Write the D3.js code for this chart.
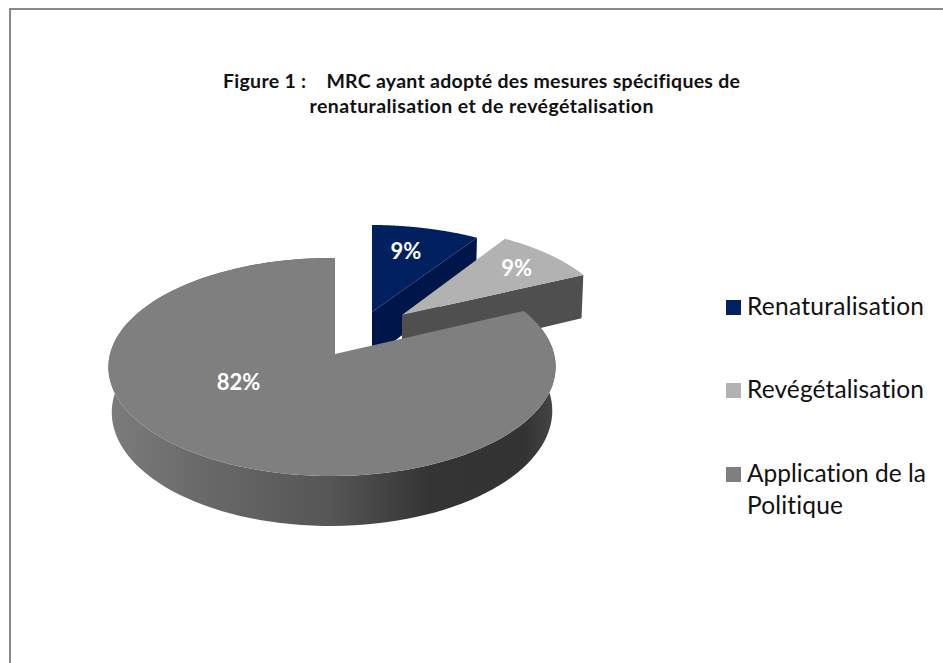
<!DOCTYPE html>
<html><head><meta charset="utf-8">
<script src="https://cdn.jsdelivr.net/npm/d3@7"></script>
<style>html,body{margin:0;padding:0;background:#fff}svg{display:block}text{font-family:Lato,"Open Sans",sans-serif;white-space:pre;font-variant-ligatures:none}</style>
</head><body><div id="c"></div>
<script>
const categories = ["Renaturalisation","Revégétalisation","Application de la Politique"];
const values = [9,9,82];
const valueLabels = ["9%","9%","82%"];
const colors = ["#002060","#b2b2b2","#7f7f7f"];
const sideColors = ["#00154a","#4f4f4f","url(#side)"];
const titleLines = ["Figure 1 :    MRC ayant adopté des mesures spécifiques de","renaturalisation et de revégétalisation"];

const W=943,H=663,K=0.119,J=0.0134;
// Layout of each exploded slice: apex on screen, radii, extrusion, taper, label polar position
const layout=[
 {cx:372,cy:312,A:217,B:97.4,d:46,f:.99,la:13.6,lr:.72,ldx:0,ldy:2},
 {cx:402,cy:315,A:213,B:100,d:46,f:.99,la:48.6,lr:.78,ldx:-2,ldy:2},
 {cx:335,cy:354,A:222,B:107.5,d:44,f:.985,la:240,lr:.47,ldx:-3,ldy:2}
];
const svg=d3.select("#c").append("svg").attr("width",W).attr("height",H);
const defs=svg.append("defs");
const g=defs.append("linearGradient").attr("id","side").attr("gradientUnits","userSpaceOnUse")
 .attr("x1",108).attr("x2",556).attr("y1",0).attr("y2",0);
[[0,"#7c7c7c"],[.2,"#6a6a6a"],[.5,"#555555"],[.72,"#343434"],[.93,"#333333"],[1,"#474747"]]
 .forEach(s=>g.append("stop").attr("offset",s[0]).attr("stop-color",s[1]));

// frame
svg.append("path").attr("d",`M10,${H}V9H${W}`).attr("fill","none").attr("stroke","#888").attr("stroke-width",2);

const pie=d3.pie().sort(null).value(d=>d);
const arcs=pie(values);
function proj(L,t,r=1,depth=0){
 const s=Math.sin(t)*r,c=Math.cos(t)*r,w=1+K*c+J*s;
 const f=depth?L.f:1;
 return [L.cx+f*L.A*s/w, L.cy-L.B*c/w+(depth?L.d/w:0)];
}
const line=d3.line();
const chart=svg.append("g");
function arcPts(L,a,dep){return d3.range(0,121).map(i=>proj(L,a.startAngle+(a.endAngle-a.startAngle)*i/120,1,dep));}
// exploded slices: back to front
[0,1].forEach(i=>{
 const L=layout[i],a=arcs[i];
 const c0=[L.cx,L.cy],c1=proj(L,a.endAngle),c2=proj(L,a.endAngle,1,1),c3=[L.cx,L.cy+L.d];
 chart.append("path").attr("d",line([c0,c1,c2,c3])+"Z").attr("fill",sideColors[i]);
 chart.append("path").attr("d",line([c0,...arcPts(L,a,0)])+"Z").attr("fill",colors[i]);
});
// main slice
{
 const L=layout[2],a=arcs[2];
 const top=arcPts(L,a,0),bot=arcPts(L,a,1);
 chart.append("path").attr("d",line([...top,...bot.reverse()])+"Z").attr("fill",sideColors[2]);
 chart.append("path").attr("d",line([[L.cx,L.cy],...top])+"Z").attr("fill",colors[2]);
}
// value labels
arcs.forEach((a,i)=>{
 const L=layout[i],p=proj(L,L.la*Math.PI/180,L.lr);
 svg.append("text").attr("x",p[0]+L.ldx).attr("y",p[1]+L.ldy).attr("dy",".35em").attr("text-anchor","middle")
  .attr("fill","#fff").attr("font-weight",700).attr("font-size",22).text(valueLabels[i]);
});
// title
const titleWidths=[517,344];
titleLines.forEach((t,i)=>svg.append("text").attr("x",481.5).attr("y",88+i*25).attr("text-anchor","middle")
 .attr("font-weight",700).attr("font-size",19.5).attr("fill","#111")
 .attr("textLength",titleWidths[i]).attr("lengthAdjust","spacing").text(t));
// legend
const legendY=[300,383,467];
const legendLines=[[categories[0]],[categories[1]],["Application de la","Politique"]];
const legendWidths=[[177],[177],[179,96]];
categories.forEach((c,i)=>{
 svg.append("rect").attr("x",726).attr("y",legendY[i]).attr("width",15).attr("height",15).attr("fill",colors[i]);
 legendLines[i].forEach((t,j)=>svg.append("text").attr("x",747).attr("y",legendY[i]+15+j*32)
  .attr("font-size",24.5).attr("fill","#111")
  .attr("textLength",legendWidths[i][j]).attr("lengthAdjust","spacing").text(t));
});
</script></body></html>
